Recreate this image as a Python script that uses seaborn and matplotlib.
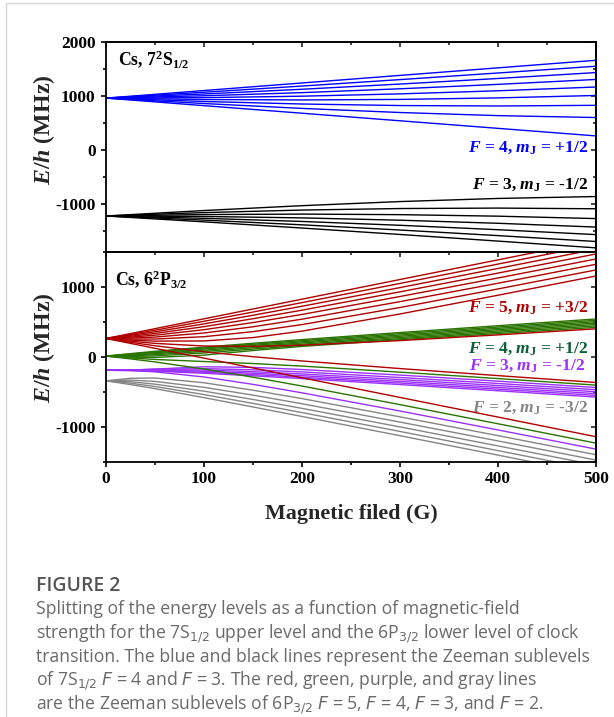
import matplotlib
matplotlib.use('Agg')
import matplotlib.pyplot as plt
import seaborn as sns
import pandas as pd
from matplotlib.ticker import MultipleLocator
from matplotlib.lines import Line2D

# ---------------- data ----------------
# Upper panel: 7S1/2, magnetic field grid (G)
B_S = [0, 100, 200, 300, 400, 500]
# F = 4 sublevels (m_F = 4 ... -4), energies in MHz
S_F4 = [
    [955.3, 1095.4, 1235.6, 1375.7, 1515.8, 1655.9],
    [955.3, 1064.0, 1178.6, 1297.8, 1420.5, 1545.9],
    [955.3, 1031.7, 1119.1, 1215.4, 1318.9, 1428.1],
    [955.3, 998.5, 1056.6, 1127.7, 1209.7, 1300.7],
    [955.3, 964.3, 990.7, 1033.5, 1090.8, 1160.8],
    [955.3, 929.0, 920.7, 930.9, 959.1, 1003.9],
    [955.3, 892.4, 845.7, 817.3, 809.2, 821.6],
    [955.3, 854.6, 764.4, 688.3, 630.5, 595.3],
    [955.3, 815.2, 675.1, 535.0, 394.8, 254.7],
]
# F = 3 sublevels (m_F = 3 ... -3)
S_F3 = [
    [-1228.3, -1336.9, -1451.6, -1570.8, -1693.4, -1818.8],
    [-1228.3, -1304.7, -1392.1, -1488.4, -1591.8, -1701.0],
    [-1228.3, -1271.4, -1329.6, -1400.7, -1482.6, -1573.6],
    [-1228.3, -1237.2, -1263.7, -1306.4, -1363.7, -1433.7],
    [-1228.3, -1201.9, -1193.6, -1203.8, -1232.0, -1276.8],
    [-1228.3, -1165.4, -1118.6, -1090.3, -1082.1, -1094.6],
    [-1228.3, -1127.5, -1037.4, -961.3, -903.5, -868.2],
]

# Lower panel: 6P3/2, magnetic field grid (G)
B_P = [0, 25, 50, 100, 150, 200, 300, 400, 500]
# F = 5 (m_F = 5 ... -5)
P_F5 = [
    [263.9, 333.9, 403.9, 543.9, 683.8, 823.8, 1103.7, 1383.7, 1663.6],
    [263.9, 321.6, 382.1, 509.0, 640.6, 774.9, 1047.9, 1323.7, 1600.9],
    [263.9, 309.0, 359.4, 471.6, 594.5, 722.9, 988.8, 1261.4, 1535.9],
    [263.9, 296.0, 335.6, 432.2, 545.0, 667.0, 928.3, 1195.5, 1467.8],
    [263.9, 282.7, 310.5, 389.2, 490.7, 606.2, 861.6, 1125.6, 1396.3],
    [263.9, 269.0, 284.0, 342.0, 430.6, 538.8, 788.6, 1050.6, 1320.7],
    [263.9, 254.9, 255.9, 289.2, 361.2, 462.0, 705.0, 969.4, 1240.2],
    [263.9, 240.3, 226.1, 228.5, 277.0, 368.5, 612.8, 880.1, 1153.8],
    [263.9, 225.3, 194.2, 156.7, 151.2, 167.9, 233.4, 315.0, 401.2],
    [263.9, 209.9, 160.2, 74.6, 4.3, -56.5, -164.7, -265.3, -362.9],
    [263.9, 194.0, 124.0, -16.0, -156.0, -295.9, -575.9, -855.8, -1135.7],
]
# F = 4 (m_F = 4 ... -4)
P_F4 = [
    [12.6, 48.2, 81.0, 140.8, 195.8, 248.1, 348.4, 445.8, 541.9],
    [12.6, 41.5, 70.8, 128.0, 181.4, 232.6, 331.5, 427.3, 522.6],
    [12.6, 34.2, 59.5, 113.3, 166.0, 216.7, 312.8, 408.7, 503.1],
    [12.6, 26.2, 46.8, 97.4, 149.4, 200.0, 295.1, 389.8, 483.3],
    [12.6, 17.7, 32.4, 79.2, 132.0, 182.9, 277.7, 370.8, 463.2],
    [12.6, 8.3, 15.2, 57.1, 112.9, 165.1, 261.0, 351.8, 442.7],
    [12.6, -2.1, -6.4, 26.5, 92.3, 151.2, 246.1, 333.0, 422.0],
    [12.6, -13.7, -35.0, -64.2, -93.0, -129.5, -215.9, -307.4, -400.6],
    [12.6, -26.7, -70.3, -171.3, -287.7, -413.5, -678.5, -951.1, -1226.8],
]
# F = 3 (m_F = 3 ... -3)
P_F3 = [
    [-188.5, -192.5, -202.2, -231.7, -268.0, -307.7, -392.5, -480.9, -570.9],
    [-188.5, -189.4, -195.3, -217.8, -250.5, -288.0, -371.3, -457.9, -547.0],
    [-188.5, -187.1, -187.9, -202.7, -230.7, -266.0, -347.8, -433.2, -521.8],
    [-188.5, -185.8, -181.0, -185.9, -208.8, -241.6, -321.7, -406.4, -495.0],
    [-188.5, -185.5, -174.8, -165.8, -182.3, -212.5, -292.1, -377.1, -466.1],
    [-188.5, -186.5, -171.7, -139.3, -147.8, -178.4, -257.5, -344.4, -434.8],
    [-188.5, -193.6, -211.2, -284.5, -390.1, -510.3, -769.3, -1039.3, -1312.3],
]
# F = 2 (m_F = 2 ... -2)
P_F2 = [
    [-339.4, -392.2, -451.2, -579.0, -711.9, -847.1, -1121.2, -1397.7, -1675.3],
    [-339.4, -373.2, -420.8, -535.2, -660.8, -791.5, -1060.3, -1333.6, -1609.2],
    [-339.4, -352.2, -386.8, -486.7, -605.2, -731.4, -996.0, -1266.4, -1540.3],
    [-339.4, -329.0, -347.7, -431.8, -543.2, -666.0, -927.2, -1195.5, -1468.2],
    [-339.4, -303.2, -299.3, -367.0, -473.0, -592.7, -852.9, -1120.1, -1392.4],
]

TOP_LABELS = [r'$F$ = 4, $m_\mathrm{J}$ = +1/2', r'$F$ = 3, $m_\mathrm{J}$ = -1/2']
BOT_LABELS = [r'$F$ = 5, $m_\mathrm{J}$ = +3/2', r'$F$ = 4, $m_\mathrm{J}$ = +1/2',
              r'$F$ = 3, $m_\mathrm{J}$ = -1/2', r'$F$ = 2, $m_\mathrm{J}$ = -3/2']
CAPTION_TITLE = 'FIGURE 2'
CAPTION_LINES = [
    'Splitting of the energy levels as a function of magnetic-field',
    'strength for the 7S$_{1/2}$ upper level and the 6P$_{3/2}$ lower level of clock',
    'transition. The blue and black lines represent the Zeeman sublevels',
    'of 7S$_{1/2}$ $F$ = 4 and $F$ = 3. The red, green, purple, and gray lines',
    'are the Zeeman sublevels of 6P$_{3/2}$ $F$ = 5, $F$ = 4, $F$ = 3, and $F$ = 2.',
]

# ---------------- style ----------------
sns.set_style('ticks')
plt.rcParams.update({
    'font.family': ['Liberation Serif', 'DejaVu Serif'],
    'font.weight': 'normal',
    'axes.unicode_minus': False,
    'mathtext.fontset': 'custom',
    'mathtext.rm': 'Liberation Serif:bold',
    'mathtext.it': 'Liberation Serif:italic:bold',
    'mathtext.bf': 'Liberation Serif:bold',
    'axes.linewidth': 1.3,
})

BLUE = '#0000FF'
RED = '#B00000'
GREEN = '#2A7400'
PURPLE = '#9B30FF'
GRAY = '#858585'

W, H = 614, 717
fig = plt.figure(figsize=(W / 100, H / 100), dpi=100)
fig.patch.set_facecolor('white')


def px_axes(left, top, right, bottom):
    return fig.add_axes([left / W, 1 - bottom / H, (right - left) / W, (bottom - top) / H])


ax1 = px_axes(106, 41.7, 596, 251.7)
ax2 = px_axes(106, 251.7, 596, 462.3)


def to_long(B, curves, name):
    rows = []
    for i, c in enumerate(curves):
        for b, e in zip(B, c):
            rows.append({'B': b, 'E': e, 'level': name, 'curve': f'{name}_{i}'})
    return rows


top_df = pd.DataFrame(to_long(B_S, S_F4, 'F4') + to_long(B_S, S_F3, 'F3'))
sns.lineplot(data=top_df, x='B', y='E', hue='level', units='curve', estimator=None,
             hue_order=['F3', 'F4'], palette={'F4': BLUE, 'F3': 'black'},
             linewidth=1.0, legend=False, ax=ax1, sort=False)

bot_df = pd.DataFrame(to_long(B_P, P_F2, 'F2') + to_long(B_P, P_F3, 'F3') +
                      to_long(B_P, P_F4, 'F4') + to_long(B_P, P_F5, 'F5'))
sns.lineplot(data=bot_df, x='B', y='E', hue='level', units='curve', estimator=None,
             hue_order=['F2', 'F3', 'F4', 'F5'],
             palette={'F5': RED, 'F4': GREEN, 'F3': PURPLE, 'F2': GRAY},
             linewidth=1.0, legend=False, ax=ax2, sort=False)


def style(ax, ylim, show_xlabels):
    ax.set_xlim(0, 500)
    ax.set_ylim(*ylim)
    ax.xaxis.set_major_locator(MultipleLocator(100))
    ax.xaxis.set_minor_locator(MultipleLocator(50))
    ax.yaxis.set_major_locator(MultipleLocator(1000))
    ax.yaxis.set_minor_locator(MultipleLocator(500))
    ax.tick_params(which='both', direction='out', width=1.2, colors='black',
                   labelsize=12.5, top=False, right=False)
    ax.tick_params(which='major', length=3.5)
    ax.tick_params(which='minor', length=2)
    ax.tick_params(axis='y', pad=4)
    ax.tick_params(axis='x', pad=3, labelbottom=show_xlabels)
    for lab in ax.get_xticklabels() + ax.get_yticklabels():
        lab.set_fontweight('bold')
    for sp in ax.spines.values():
        sp.set_visible(True)
        sp.set_linewidth(1.3)
        sp.set_color('black')
    ax.set_xlabel('')
    ax.set_ylabel('')
    sx = ax.secondary_xaxis('top')
    sx.xaxis.set_major_locator(MultipleLocator(100))
    sx.xaxis.set_minor_locator(MultipleLocator(50))
    sx.tick_params(which='both', direction='in', labeltop=False, width=1.2)
    sx.tick_params(which='major', length=3.5)
    sx.tick_params(which='minor', length=2)
    sx.spines['top'].set_linewidth(1.3)
    sy = ax.secondary_yaxis('right')
    sy.yaxis.set_major_locator(MultipleLocator(1000))
    sy.yaxis.set_minor_locator(MultipleLocator(500))
    sy.tick_params(which='both', direction='in', labelright=False, width=1.2)
    sy.tick_params(which='major', length=3.5)
    sy.tick_params(which='minor', length=2)
    sy.spines['right'].set_linewidth(1.3)


style(ax1, (-1890, 2000), False)
style(ax2, (-1500, 1500), True)

for ax, yc in ((ax1, 0.580), (ax2, 0.545)):
    ax.set_ylabel('$E/h$ (MHz)', fontsize=17.2, fontweight='bold')
    ax.yaxis.set_label_coords(-0.100, yc)
ax2.set_xlabel('Magnetic filed (G)', fontsize=15.8, fontweight='bold')
ax2.xaxis.set_label_coords(0.5, -0.196)

# panel titles
ax1.text(0.0243, 0.889, 'Cs, 7$^2$S$_{1/2}$', transform=ax1.transAxes,
         ha='left', va='baseline', fontsize=12.8, fontweight='bold', color='black')
ax2.text(0.0184, 0.842, 'Cs, 6$^2$P$_{3/2}$', transform=ax2.transAxes,
         ha='left', va='baseline', fontsize=12.8, fontweight='bold', color='black')

# level labels
XR = (588 - 106) / 490
for txt, yf, col in zip(TOP_LABELS, [0.4762, 0.2986], [BLUE, 'black']):
    ax1.text(XR, yf, txt, transform=ax1.transAxes, ha='right', va='baseline',
             fontsize=12.6, fontweight='bold', color=col)
for txt, xf, yf, col in zip(BOT_LABELS, [XR, XR, XR - 0.006, XR],
                            [0.7151, 0.5223, 0.4416, 0.2403],
                            [RED, '#0B5E36', PURPLE, GRAY]):
    ax2.text(xf, yf, txt, transform=ax2.transAxes, ha='right', va='baseline',
             fontsize=12.6, fontweight='bold', color=col)

# ---------------- caption ----------------
renderer = fig.canvas.get_renderer()
CAP_FONT = ['Open Sans', 'DejaVu Sans']
probe = fig.text(0, 0, CAPTION_LINES[2], family=CAP_FONT, fontsize=12, fontweight='normal')
w = probe.get_window_extent(renderer).width
probe.remove()
fs_body = 12 * 552 / w
probe = fig.text(0, 0, CAPTION_TITLE, family=CAP_FONT, fontsize=12, fontweight='semibold')
w2 = probe.get_window_extent(renderer).width
probe.remove()
fs_title = 12 * 84 / w2

fig.text(36 / W, 1 - 591 / H, CAPTION_TITLE, family=CAP_FONT, fontsize=fs_title,
         fontweight='semibold', color='#555555', ha='left', va='baseline')
for i, line in enumerate(CAPTION_LINES):
    fig.text(36 / W, 1 - (614.5 + 23.7 * i) / H, line, family=CAP_FONT, fontsize=fs_body,
             fontweight='normal', color='#6a6a6a', ha='left', va='baseline',
             math_fontfamily='dejavusans')

# light frame lines of the figure panel
fig.add_artist(Line2D([6 / W, 1], [1 - 3 / H, 1 - 3 / H], transform=fig.transFigure,
                      color='#d6d6d6', lw=1.0))
fig.add_artist(Line2D([6 / W, 6 / W], [0, 1 - 3 / H], transform=fig.transFigure,
                      color='#d6d6d6', lw=1.0))

fig.savefig('out.png', dpi=100, facecolor='white')
